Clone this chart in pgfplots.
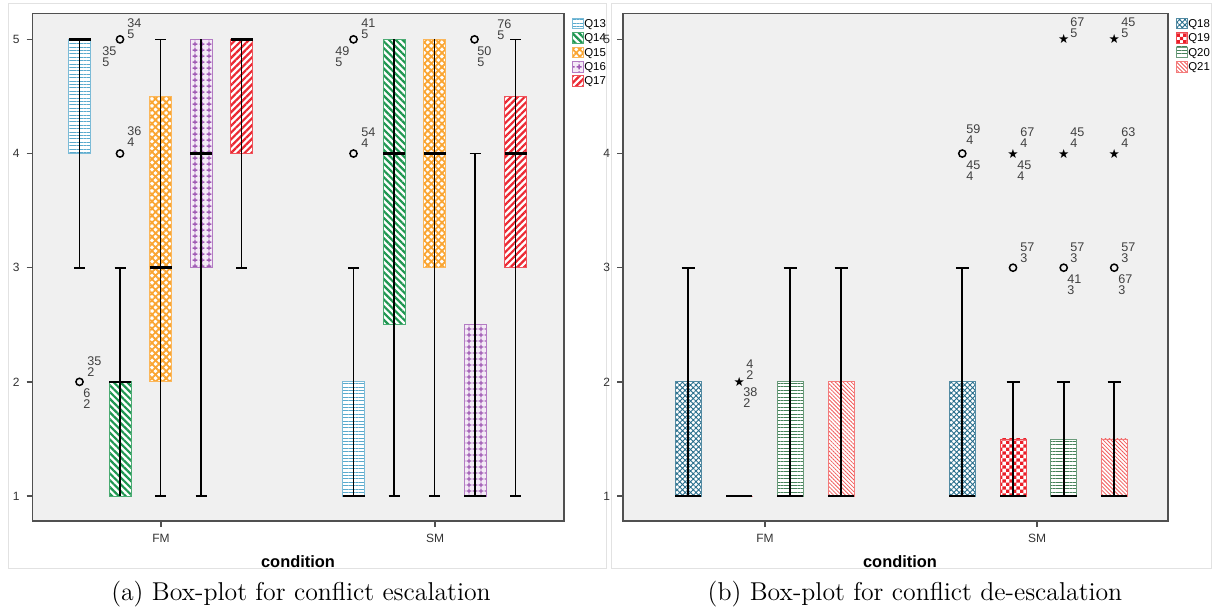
\documentclass[border=0pt]{standalone}
\usepackage{fontspec}
\newfontfamily\arial{Liberation Sans}
\newfontfamily\dejavu{DejaVu Sans}
\usepackage{pgfplots}
\pgfplotsset{compat=1.18}
\usepgfplotslibrary{statistics}
\usetikzlibrary{patterns,patterns.meta}

\definecolor{bgpanel}{RGB}{240,240,240}
\definecolor{axisgray}{RGB}{80,80,80}
\definecolor{paneledge}{RGB}{226,226,226}
\definecolor{c13}{RGB}{90,170,205}
\definecolor{c14}{RGB}{30,150,80}
\definecolor{c15}{RGB}{250,165,50}
\definecolor{c16}{RGB}{160,90,180}
\definecolor{c17}{RGB}{235,40,50}
\definecolor{c18}{RGB}{40,110,140}
\definecolor{c19}{RGB}{235,30,40}
\definecolor{c20}{RGB}{70,130,90}
\definecolor{c21}{RGB}{240,90,90}

% plus signs for Q16
\pgfdeclarepattern{
  name=plusgrid,
  type=uncolored,
  bottom left={\pgfpoint{0pt}{0pt}},
  top right={\pgfpoint{3.2pt}{3.2pt}},
  tile size={\pgfpoint{3.2pt}{3.2pt}},
  code={
    \pgfsetlinewidth{0.75pt}
    \pgfpathmoveto{\pgfpoint{0.3pt}{1.6pt}}\pgfpathlineto{\pgfpoint{2.9pt}{1.6pt}}
    \pgfpathmoveto{\pgfpoint{1.6pt}{0.3pt}}\pgfpathlineto{\pgfpoint{1.6pt}{2.9pt}}
    \pgfusepath{stroke}
  }
}
% checkerboard for Q19
\pgfdeclarepattern{
  name=checker,
  type=uncolored,
  bottom left={\pgfpoint{0pt}{0pt}},
  top right={\pgfpoint{3.4pt}{3.4pt}},
  tile size={\pgfpoint{3.4pt}{3.4pt}},
  code={
    \pgfpathrectangle{\pgfpoint{0pt}{0pt}}{\pgfpoint{1.7pt}{1.7pt}}
    \pgfpathrectangle{\pgfpoint{1.7pt}{1.7pt}}{\pgfpoint{1.7pt}{1.7pt}}
    \pgfusepath{fill}
  }
}

\tikzset{
  p13/.style={draw=c13!80, fill=white, postaction={pattern={Lines[angle=0,distance=1.7pt,line width=0.45pt]}, pattern color=c13}},
  p14/.style={draw=c14!80, fill=white, postaction={pattern={Lines[angle=-45,distance=2.4pt,line width=1.1pt]}, pattern color=c14}},
  p15/.style={draw=c15!80, fill=white, postaction={pattern={Hatch[angle=45,distance=2.5pt,line width=0.9pt]}, pattern color=c15}},
  p16/.style={draw=c16!80, fill=c16!12, postaction={pattern=plusgrid, pattern color=c16}},
  p17/.style={draw=c17!80, fill=white, postaction={pattern={Lines[angle=45,distance=2.4pt,line width=1.1pt]}, pattern color=c17}},
  p18/.style={draw=c18!80, fill=white, postaction={pattern={Hatch[angle=45,distance=1.9pt,line width=0.45pt]}, pattern color=c18}},
  p19/.style={draw=c19!80, fill=white, postaction={pattern=checker, pattern color=c19}},
  p20/.style={draw=c20!80, fill=white, postaction={pattern={Lines[angle=0,distance=1.7pt,line width=0.5pt]}, pattern color=c20}},
  p21/.style={draw=c21!80, fill=white, postaction={pattern={Lines[angle=-45,distance=1.4pt,line width=0.4pt]}, pattern color=c21}},
  lab/.style={font=\arial\fontsize{6.3}{5.5}\selectfont, text=black!75, inner sep=0pt, anchor=north west, align=left},
}

\pgfplotsset{
  spss/.style={
    scale only axis, height=253.65pt,
    ymin=0.781, ymax=5.225, ytick={1,2,3,4,5},
    axis background/.style={fill=bgpanel},
    axis line style={draw=axisgray, line width=0.8pt},
    tick style={draw=axisgray, line width=0.7pt},
    tick align=outside, major tick length=3pt,
    xtick pos=left, ytick pos=left,
    ticklabel style={font=\arial\fontsize{6}{7}\selectfont, text=black!80},
    /pgf/number format/assume math mode=true,
    clip=false,
    legend style={at={(1,1)}, anchor=north west, xshift=3.85pt, yshift=-1.85pt,
      draw=none, fill=none, inner sep=0pt, row sep=1.5pt,
      font=\arial\fontsize{5.7}{6}\selectfont,
      nodes={inner sep=0.4pt, text height=4.2pt, text depth=0.4pt}},
    legend cell align=left,
    legend image code/.code={\draw[##1] (0pt,-2.65pt) rectangle (5.3pt,2.65pt);},
  },
  bx/.style={forget plot, boxplot/draw direction=y,
    boxplot/every median/.style={black, line width=1.3pt},
    boxplot/every whisker/.style={black, line width=0.85pt}},
  ctr/.style={forget plot, black, line width=0.85pt},
  outl/.style={forget plot, only marks, mark=o, mark size=1.8pt, black, line width=0.75pt},
  extr/.style={forget plot, only marks, mark=text, text mark={\dejavu\fontsize{6.3}{6.3}\selectfont ★}},
}

\begin{document}
\begin{tikzpicture}[x=0.5pt,y=0.5pt]
\useasboundingbox (0,0) rectangle (1213,608);
\draw[paneledge, line width=0.5pt] (8,604) rectangle (606,39);
\draw[paneledge, line width=0.5pt] (611,604) rectangle (1211,39);

% ---------------- (a) conflict escalation ----------------
\begin{axis}[spss, at={(32.5,76.2)}, anchor=south west, width=265.75pt,
  xmin=32.5, xmax=564, xtick={161,435}, xticklabels={FM,SM}]
\addlegendimage{p13}\addlegendentry{Q13}
\addlegendimage{p14}\addlegendentry{Q14}
\addlegendimage{p15}\addlegendentry{Q15}
\addlegendimage{p16}\addlegendentry{Q16}
\addlegendimage{p17}\addlegendentry{Q17}
% FM
\addplot[bx, boxplot/every box/.style={p13}, boxplot prepared={lower whisker=3, lower quartile=4, median=5, upper quartile=5, upper whisker=5, draw position=79.5, box extend=22, whisker extend=11}] coordinates {};
\addplot[ctr] coordinates {(79.5,3) (79.5,5)};
\addplot[bx, boxplot/every box/.style={p14}, boxplot prepared={lower whisker=1, lower quartile=1, median=2, upper quartile=2, upper whisker=3, draw position=120, box extend=22, whisker extend=11}] coordinates {};
\addplot[ctr] coordinates {(120,1) (120,3)};
\addplot[bx, boxplot/every box/.style={p15}, boxplot prepared={lower whisker=1, lower quartile=2, median=3, upper quartile=4.5, upper whisker=5, draw position=160.5, box extend=22, whisker extend=11}] coordinates {};
\addplot[ctr] coordinates {(160.5,1) (160.5,5)};
\addplot[bx, boxplot/every box/.style={p16}, boxplot prepared={lower whisker=1, lower quartile=3, median=4, upper quartile=5, upper whisker=5, draw position=201, box extend=22, whisker extend=11}] coordinates {};
\addplot[ctr] coordinates {(201,1) (201,5)};
\addplot[bx, boxplot/every box/.style={p17}, boxplot prepared={lower whisker=3, lower quartile=4, median=5, upper quartile=5, upper whisker=5, draw position=241.5, box extend=22, whisker extend=11}] coordinates {};
\addplot[ctr] coordinates {(241.5,3) (241.5,5)};
% SM
\addplot[bx, boxplot/every box/.style={p13}, boxplot prepared={lower whisker=1, lower quartile=1, median=1, upper quartile=2, upper whisker=3, draw position=353.5, box extend=22, whisker extend=11}] coordinates {};
\addplot[ctr] coordinates {(353.5,1) (353.5,3)};
\addplot[bx, boxplot/every box/.style={p14}, boxplot prepared={lower whisker=1, lower quartile=2.5, median=4, upper quartile=5, upper whisker=5, draw position=394, box extend=22, whisker extend=11}] coordinates {};
\addplot[ctr] coordinates {(394,1) (394,5)};
\addplot[bx, boxplot/every box/.style={p15}, boxplot prepared={lower whisker=1, lower quartile=3, median=4, upper quartile=5, upper whisker=5, draw position=434.5, box extend=22, whisker extend=11}] coordinates {};
\addplot[ctr] coordinates {(434.5,1) (434.5,5)};
\addplot[bx, boxplot/every box/.style={p16}, boxplot prepared={lower whisker=1, lower quartile=1, median=1, upper quartile=2.5, upper whisker=4, draw position=475, box extend=22, whisker extend=11}] coordinates {};
\addplot[ctr] coordinates {(475,1) (475,4)};
\addplot[bx, boxplot/every box/.style={p17}, boxplot prepared={lower whisker=1, lower quartile=3, median=4, upper quartile=4.5, upper whisker=5, draw position=515.5, box extend=22, whisker extend=11}] coordinates {};
\addplot[ctr] coordinates {(515.5,1) (515.5,5)};
% outliers
\addplot[outl] coordinates {(120,5) (120,4) (79.5,2) (353.5,5) (353.5,4) (474.5,5)};
\node[lab] at (axis cs:127,5.181) {34\\5};
\node[lab] at (axis cs:102,4.936) {35\\5};
\node[lab] at (axis cs:127,4.235) {36\\4};
\node[lab] at (axis cs:87,2.220) {35\\2};
\node[lab] at (axis cs:83,1.940) {6\\2};
\node[lab] at (axis cs:361,5.181) {41\\5};
\node[lab] at (axis cs:335,4.936) {49\\5};
\node[lab] at (axis cs:361,4.226) {54\\4};
\node[lab] at (axis cs:477,4.936) {50\\5};
\node[lab] at (axis cs:497,5.173) {76\\5};
\end{axis}

% ---------------- (b) conflict de-escalation ----------------
\begin{axis}[spss, at={(623,76.2)}, anchor=south west, width=272.5pt,
  xmin=623, xmax=1168, xtick={765,1037}, xticklabels={FM,SM}]
\addlegendimage{p18}\addlegendentry{Q18}
\addlegendimage{p19}\addlegendentry{Q19}
\addlegendimage{p20}\addlegendentry{Q20}
\addlegendimage{p21}\addlegendentry{Q21}
% FM
\addplot[bx, boxplot/every box/.style={p18}, boxplot prepared={lower whisker=1, lower quartile=1, median=1, upper quartile=2, upper whisker=3, draw position=688, box extend=26, whisker extend=13}] coordinates {};
\addplot[ctr] coordinates {(688,1) (688,3)};
\addplot[bx, boxplot/every box/.style={p19}, boxplot prepared={lower whisker=1, lower quartile=1, median=1, upper quartile=1, upper whisker=1, draw position=739.3, box extend=26, whisker extend=13}] coordinates {};
\addplot[bx, boxplot/every box/.style={p20}, boxplot prepared={lower whisker=1, lower quartile=1, median=1, upper quartile=2, upper whisker=3, draw position=790, box extend=26, whisker extend=13}] coordinates {};
\addplot[ctr] coordinates {(790,1) (790,3)};
\addplot[bx, boxplot/every box/.style={p21}, boxplot prepared={lower whisker=1, lower quartile=1, median=1, upper quartile=2, upper whisker=3, draw position=841, box extend=26, whisker extend=13}] coordinates {};
\addplot[ctr] coordinates {(841,1) (841,3)};
% SM
\addplot[bx, boxplot/every box/.style={p18}, boxplot prepared={lower whisker=1, lower quartile=1, median=1, upper quartile=2, upper whisker=3, draw position=962.3, box extend=26, whisker extend=13}] coordinates {};
\addplot[ctr] coordinates {(962.3,1) (962.3,3)};
\addplot[bx, boxplot/every box/.style={p19}, boxplot prepared={lower whisker=1, lower quartile=1, median=1, upper quartile=1.5, upper whisker=2, draw position=1013, box extend=26, whisker extend=13}] coordinates {};
\addplot[ctr] coordinates {(1013,1) (1013,2)};
\addplot[bx, boxplot/every box/.style={p20}, boxplot prepared={lower whisker=1, lower quartile=1, median=1, upper quartile=1.5, upper whisker=2, draw position=1063.7, box extend=26, whisker extend=13}] coordinates {};
\addplot[ctr] coordinates {(1063.7,1) (1063.7,2)};
\addplot[bx, boxplot/every box/.style={p21}, boxplot prepared={lower whisker=1, lower quartile=1, median=1, upper quartile=1.5, upper whisker=2, draw position=1114.2, box extend=26, whisker extend=13}] coordinates {};
\addplot[ctr] coordinates {(1114.2,1) (1114.2,2)};
% outliers (o) and extremes (star)
\addplot[outl] coordinates {(962.3,4) (1013,3) (1063.7,3) (1114.2,3)};
\addplot[extr] coordinates {(739.3,2) (1013,4) (1063.7,4) (1063.7,5) (1114.2,4) (1114.2,5)};
\node[lab] at (axis cs:1070,5.190) {67\\5};
\node[lab] at (axis cs:1121,5.190) {45\\5};
\node[lab] at (axis cs:966,4.253) {59\\4};
\node[lab] at (axis cs:966,3.937) {45\\4};
\node[lab] at (axis cs:1020,4.226) {67\\4};
\node[lab] at (axis cs:1017,3.937) {45\\4};
\node[lab] at (axis cs:1070,4.226) {45\\4};
\node[lab] at (axis cs:1121,4.226) {63\\4};
\node[lab] at (axis cs:1020,3.219) {57\\3};
\node[lab] at (axis cs:1070,3.219) {57\\3};
\node[lab] at (axis cs:1067,2.939) {41\\3};
\node[lab] at (axis cs:1121,3.219) {57\\3};
\node[lab] at (axis cs:1118,2.939) {67\\3};
\node[lab] at (axis cs:746,2.194) {4\\2};
\node[lab] at (axis cs:743,1.949) {38\\2};
\end{axis}

% axis titles and captions
\node[font=\arial\bfseries\fontsize{8.2}{9}\selectfont] at (298,46) {condition};
\node[font=\arial\bfseries\fontsize{8.2}{9}\selectfont] at (900,46) {condition};
\node[font=\fontsize{12.9}{15}\selectfont, anchor=base] at (301,7) {(a) Box-plot for conflict escalation};
\node[font=\fontsize{12.9}{15}\selectfont, anchor=base] at (915,7) {(b) Box-plot for conflict de-escalation};
\end{tikzpicture}
\end{document}
